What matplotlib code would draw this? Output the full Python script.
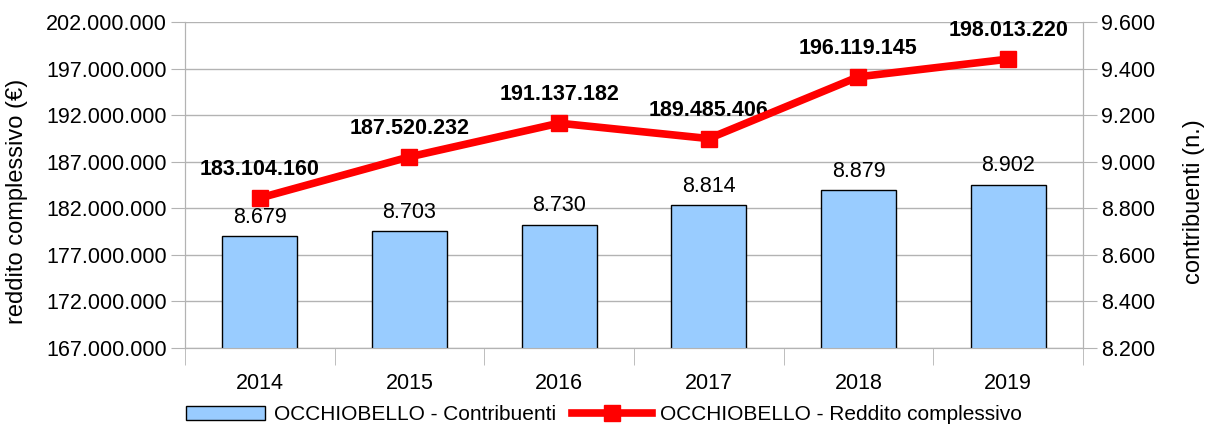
import numpy as np
import matplotlib.pyplot as plt
from matplotlib.patches import Patch
from matplotlib.lines import Line2D
from matplotlib.ticker import FuncFormatter

plt.rcParams['font.family'] = ['Liberation Sans', 'DejaVu Sans']

years = ['2014', '2015', '2016', '2017', '2018', '2019']
contribuenti = [8679, 8703, 8730, 8814, 8879, 8902]
reddito = [183104160, 187520232, 191137182, 189485406, 196119145, 198013220]


def it_fmt(v, pos=None):
    return f'{int(round(v)):,}'.replace(',', '.')


grid_col = '#b3b3b3'
fs = 15.5
x = np.arange(len(years))

fig = plt.figure(figsize=(12.08, 4.28), dpi=100)
ax = fig.add_axes([0.1531, 0.1869, 0.7434, 0.7617])
ax2 = ax.twinx()

# bars on the right axis, line on the left axis -> draw line axis on top
ax.set_zorder(ax2.get_zorder() + 1)
ax.patch.set_visible(False)

ax2.bar(x, contribuenti, width=0.5, color='#99ccff', edgecolor='black', linewidth=1, zorder=3)
for xi, v in zip(x, contribuenti):
    ax2.annotate(it_fmt(v), (xi, v), xytext=(0, 6), textcoords='offset points',
                 ha='center', va='bottom', fontsize=fs)

ax.plot(x, reddito, color='#ff0000', linewidth=5.5, marker='s', markersize=11, zorder=4)
for xi, v in zip(x, reddito):
    ax.annotate(it_fmt(v), (xi, v), xytext=(0, 13), textcoords='offset points',
                ha='center', va='bottom', fontsize=fs, fontweight='bold')

ax.set_xlim(-0.5, len(years) - 0.5)
ax.set_ylim(167000000, 202000000)
ax.set_yticks(np.arange(167000000, 202000001, 5000000))
ax.yaxis.set_major_formatter(FuncFormatter(it_fmt))
ax2.set_ylim(8200, 9600)
ax2.set_yticks(np.arange(8200, 9601, 200))
ax2.yaxis.set_major_formatter(FuncFormatter(it_fmt))

ax2.grid(axis='y', color=grid_col, linewidth=1)
ax2.set_axisbelow(True)

ax.set_xticks(x)
ax.set_xticklabels(years)
ax.set_xticks(np.arange(-0.5, len(years)), minor=True)
ax.tick_params(axis='x', which='major', length=0, pad=18, labelsize=fs)
ax.tick_params(axis='x', which='minor', length=12, color=grid_col)
ax.tick_params(axis='y', length=10, color=grid_col, labelsize=fs, pad=3)
ax2.tick_params(axis='y', length=10, color=grid_col, labelsize=fs, pad=3)

for a in (ax, ax2):
    for s in a.spines.values():
        s.set_color(grid_col)
    a.spines['top'].set_visible(False)

ax.set_ylabel('reddito complessivo (€)', fontsize=17, labelpad=13, y=0.45)
ax2.set_ylabel('contribuenti (n.)', fontsize=17, labelpad=20, y=0.45)

handles = [Patch(facecolor='#99ccff', edgecolor='black', linewidth=1),
           Line2D([], [], color='#ff0000', linewidth=5.5, marker='s', markersize=11)]
fig.legend(handles, ['OCCHIOBELLO - Contribuenti', 'OCCHIOBELLO - Reddito complessivo'],
           loc='lower center', bbox_to_anchor=(0.5, -0.035), ncol=2, frameon=False,
           fontsize=15, handlelength=3.8, columnspacing=0.8, handletextpad=0.4)

fig.savefig('out.png', dpi=100)
